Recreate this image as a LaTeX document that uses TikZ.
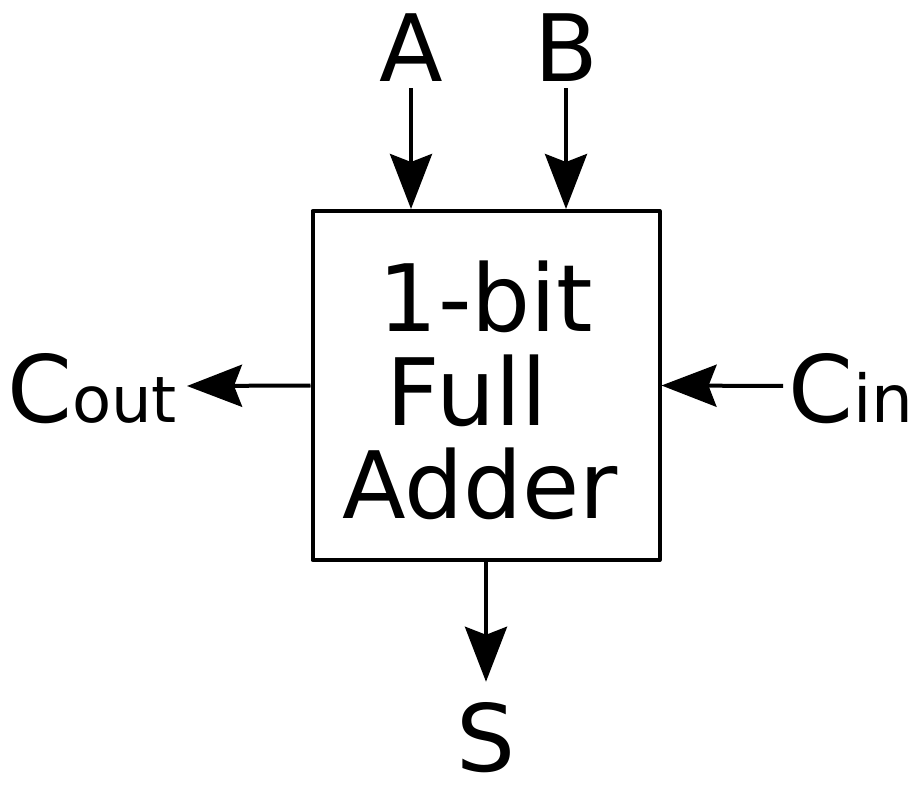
\documentclass[tikz,border=0pt]{standalone}
\usepackage{fontspec}
\setmainfont{DejaVu Sans}
\usetikzlibrary{arrows.meta}
\begin{document}
\begin{tikzpicture}[x=1pt,y=-1pt,
  big/.style={inner sep=0pt, anchor=base, font=\fontsize{93}{93}\selectfont},
  conn/.style={line width=4pt, -{Stealth[length=55pt,width=42pt,inset=8pt]}},
  fabox/.style={draw, line width=4pt, minimum width=347pt, minimum height=349pt, inner sep=0pt, line join=round}]
\useasboundingbox[fill=white] (0,0) rectangle (919,786);
\node[fabox] (box) at (486,385.5) {};
\node[big] (l1) at (486,332) {1-bit};
\node[big] (l2) at (467,425) {F\kern-4ptull};
\node[big] (l3) at (480,518) {Adder};
\node[big] (A) at (411,82) {A};
\node[big] (B) at (566,82) {B};
\node[big] (S) at (486,771) {S};
\node[big, anchor=base west] (cout) at (7,422) {C{\fontsize{64}{64}\selectfont out}};
\node[big, anchor=base west] (cin) at (788,422) {C{\fontsize{66}{66}\selectfont in}};
\coordinate (coutend) at (187,386);
\coordinate (cinstart) at (783,386);
\draw[conn, shorten <=6pt] (A.south) -- (A.south |- box.north);
\draw[conn, shorten <=6pt] (B.south) -- (B.south |- box.north);
\draw[conn] (box.west) -- (coutend);
\draw[conn] (cinstart) -- (box.east);
\draw[conn, shorten >=20pt] (box.south) -- (S.north);
\end{tikzpicture}
\end{document}
